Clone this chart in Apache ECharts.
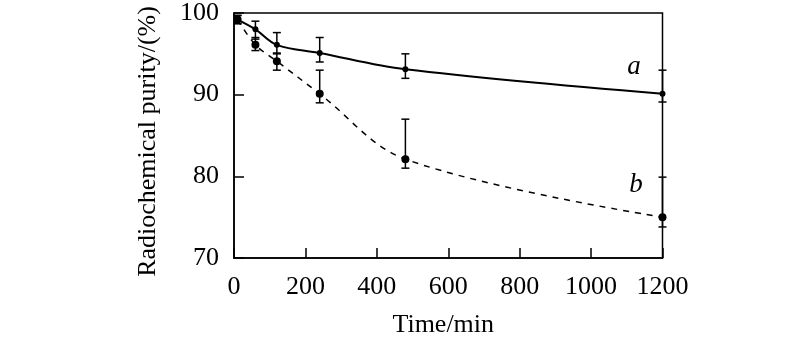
<!DOCTYPE html>
<html><head><meta charset="utf-8">
<script src="https://cdn.jsdelivr.net/npm/echarts@6/dist/echarts.min.js"></script>
<style>html,body{margin:0;padding:0;background:#fff}#c{width:800px;height:344px}</style>
</head><body><div id="c"></div>
<script>
var times = [10, 60, 120, 240, 480, 1200];
var aValues = [99.2, 98.0, 96.1, 95.1, 93.1, 90.1];
var aHigh = [99.7, 99.0, 97.6, 97.0, 95.0, 93.0];
var aLow = [98.7, 96.8, 95.1, 94.0, 92.0, 89.1];
var bValues = [99.2, 96.1, 94.1, 90.1, 82.1, 75.0];
var bHigh = [99.7, 97.0, 95.0, 93.0, 87.0, 79.9];
var bLow = [98.7, 95.4, 93.0, 89.0, 81.0, 73.8];
var xTicks = [0, 200, 400, 600, 800, 1000, 1200];
var yTicks = [70, 80, 90, 100];
var curveLabels = [{name: 'a', x: 1120, y: 93.4}, {name: 'b', x: 1126, y: 78.9}];

var FONT = 'Liberation Serif';
function pairs(xs, ys) { return xs.map(function (x, i) { return [x, ys[i]]; }); }
function errData(xs, lo, hi) { return xs.map(function (x, i) { return [x, lo[i], hi[i]]; }); }
function errRender(params, api) {
  var x = api.value(0);
  var p1 = api.coord([x, api.value(1)]);
  var p2 = api.coord([x, api.value(2)]);
  var w = 4;
  var st = {stroke: '#000', lineWidth: 1.5};
  return {type: 'group', children: [
    {type: 'line', shape: {x1: p1[0], y1: p1[1], x2: p2[0], y2: p2[1]}, style: st},
    {type: 'line', shape: {x1: p1[0] - w, y1: p1[1], x2: p1[0] + w, y2: p1[1]}, style: st},
    {type: 'line', shape: {x1: p2[0] - w, y1: p2[1], x2: p2[0] + w, y2: p2[1]}, style: st}
  ]};
}
function labelRender(params, api) {
  var p = api.coord([api.value(0), api.value(1)]);
  return {type: 'text', x: p[0], y: p[1], style: {
    text: curveLabels[params.dataIndex].name, fill: '#000',
    font: 'italic 27px ' + FONT, textAlign: 'center', textVerticalAlign: 'middle'}};
}

var chart = echarts.init(document.getElementById('c'), null, {renderer: 'canvas'});
chart.setOption({
  animation: false,
  backgroundColor: '#fff',
  grid: {left: 234, right: 137.5, top: 12, bottom: 86, show: true, borderColor: '#000', borderWidth: 1.5, backgroundColor: 'transparent'},
  xAxis: {
    type: 'value', min: xTicks[0], max: xTicks[xTicks.length - 1], interval: 200,
    name: 'Time/min', nameLocation: 'middle', nameGap: 54,
    nameTextStyle: {fontFamily: FONT, fontSize: 26, color: '#000', padding: [0, 10, 0, 0]},
    axisLine: {show: true, lineStyle: {color: '#000', width: 1.5}},
    axisTick: {show: true, inside: true, length: 10, lineStyle: {color: '#000', width: 1.5}},
    axisLabel: {fontFamily: FONT, fontSize: 26, color: '#000', margin: 16, formatter: function (v) { return String(v); }},
    splitLine: {show: false}
  },
  yAxis: {
    type: 'value', min: yTicks[0], max: yTicks[yTicks.length - 1], interval: 10,
    name: 'Radiochemical purity/(%)', nameLocation: 'middle', nameGap: 73,
    nameTextStyle: {fontFamily: FONT, fontSize: 26, color: '#000', padding: [0, 12, 0, 0]},
    axisLine: {show: true, lineStyle: {color: '#000', width: 1.5}},
    axisTick: {show: true, inside: true, length: 10, lineStyle: {color: '#000', width: 1.5}},
    axisLabel: {fontFamily: FONT, fontSize: 26, color: '#000', margin: 15, formatter: function (v) { return String(v); }},
    splitLine: {show: false}
  },
  series: [
    {type: 'line', data: pairs(times, aValues), smooth: 0.35, symbol: 'circle', symbolSize: 6,
     itemStyle: {color: '#000'}, lineStyle: {color: '#000', width: 2}, z: 3},
    {type: 'line', data: pairs(times, bValues), smooth: 0.35, symbol: 'circle', symbolSize: 8,
     itemStyle: {color: '#000'}, lineStyle: {color: '#000', width: 1.5, type: [6, 6]}, z: 3},
    {type: 'custom', renderItem: errRender, data: errData(times, aLow, aHigh), z: 4},
    {type: 'custom', renderItem: errRender, data: errData(times, bLow, bHigh), z: 4},
    {type: 'custom', renderItem: labelRender, data: curveLabels.map(function (d) { return [d.x, d.y]; }), z: 5}
  ]
});
</script></body></html>
